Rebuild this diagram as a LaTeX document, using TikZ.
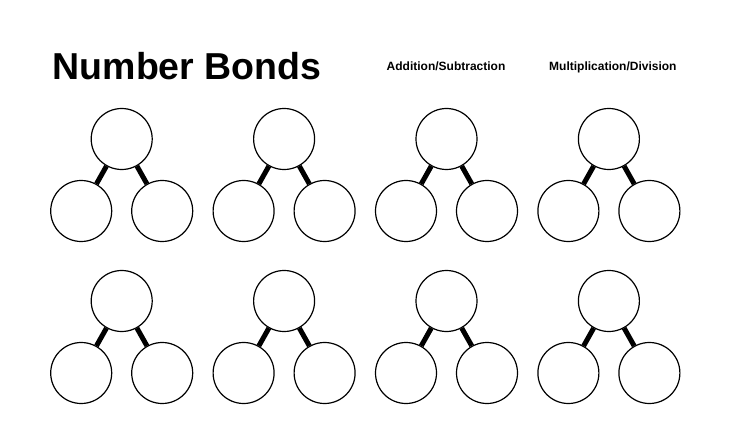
\documentclass[tikz,border=0pt]{standalone}
\usepackage{fontspec}
\setmainfont{Liberation Sans}
\usetikzlibrary{positioning}

\begin{document}
\begin{tikzpicture}[
    x=1pt, y=-1pt,
    bubble/.style={circle, draw, line width=1.2pt, minimum size=61pt, inner sep=0pt, fill=white},
    bond/.style={line width=5pt, line cap=butt},
    title/.style={anchor=base west, inner sep=0pt, font=\bfseries\fontsize{37.5}{40}\selectfont},
    heading/.style={anchor=base west, inner sep=0pt, font=\bfseries\fontsize{12}{14}\selectfont}
]
    \useasboundingbox (0,0) rectangle (736,422);

    \node[title] (name) at (52.5,79.5) {Number Bonds};
    \node[heading] (addsub) at (386.5,71) {Addition/Subtraction};
    \node[heading] (muldiv) at (549,71) {Multiplication/Division};

    % two rows of four bonds
    \foreach \r/\y in {1/139, 2/301} {
        \foreach \c/\x in {1/121.7, 2/284.1, 3/446.5, 4/608.9} {
            \node[bubble] (whole-\r-\c) at (\x,\y) {};
            \node[bubble] (left-\r-\c) at (\x-40.5,\y+72) {};
            \node[bubble] (right-\r-\c) at (\x+40.5,\y+72) {};
            \draw[bond] (whole-\r-\c) -- (left-\r-\c);
            \draw[bond] (whole-\r-\c) -- (right-\r-\c);
        }
    }
\end{tikzpicture}
\end{document}
